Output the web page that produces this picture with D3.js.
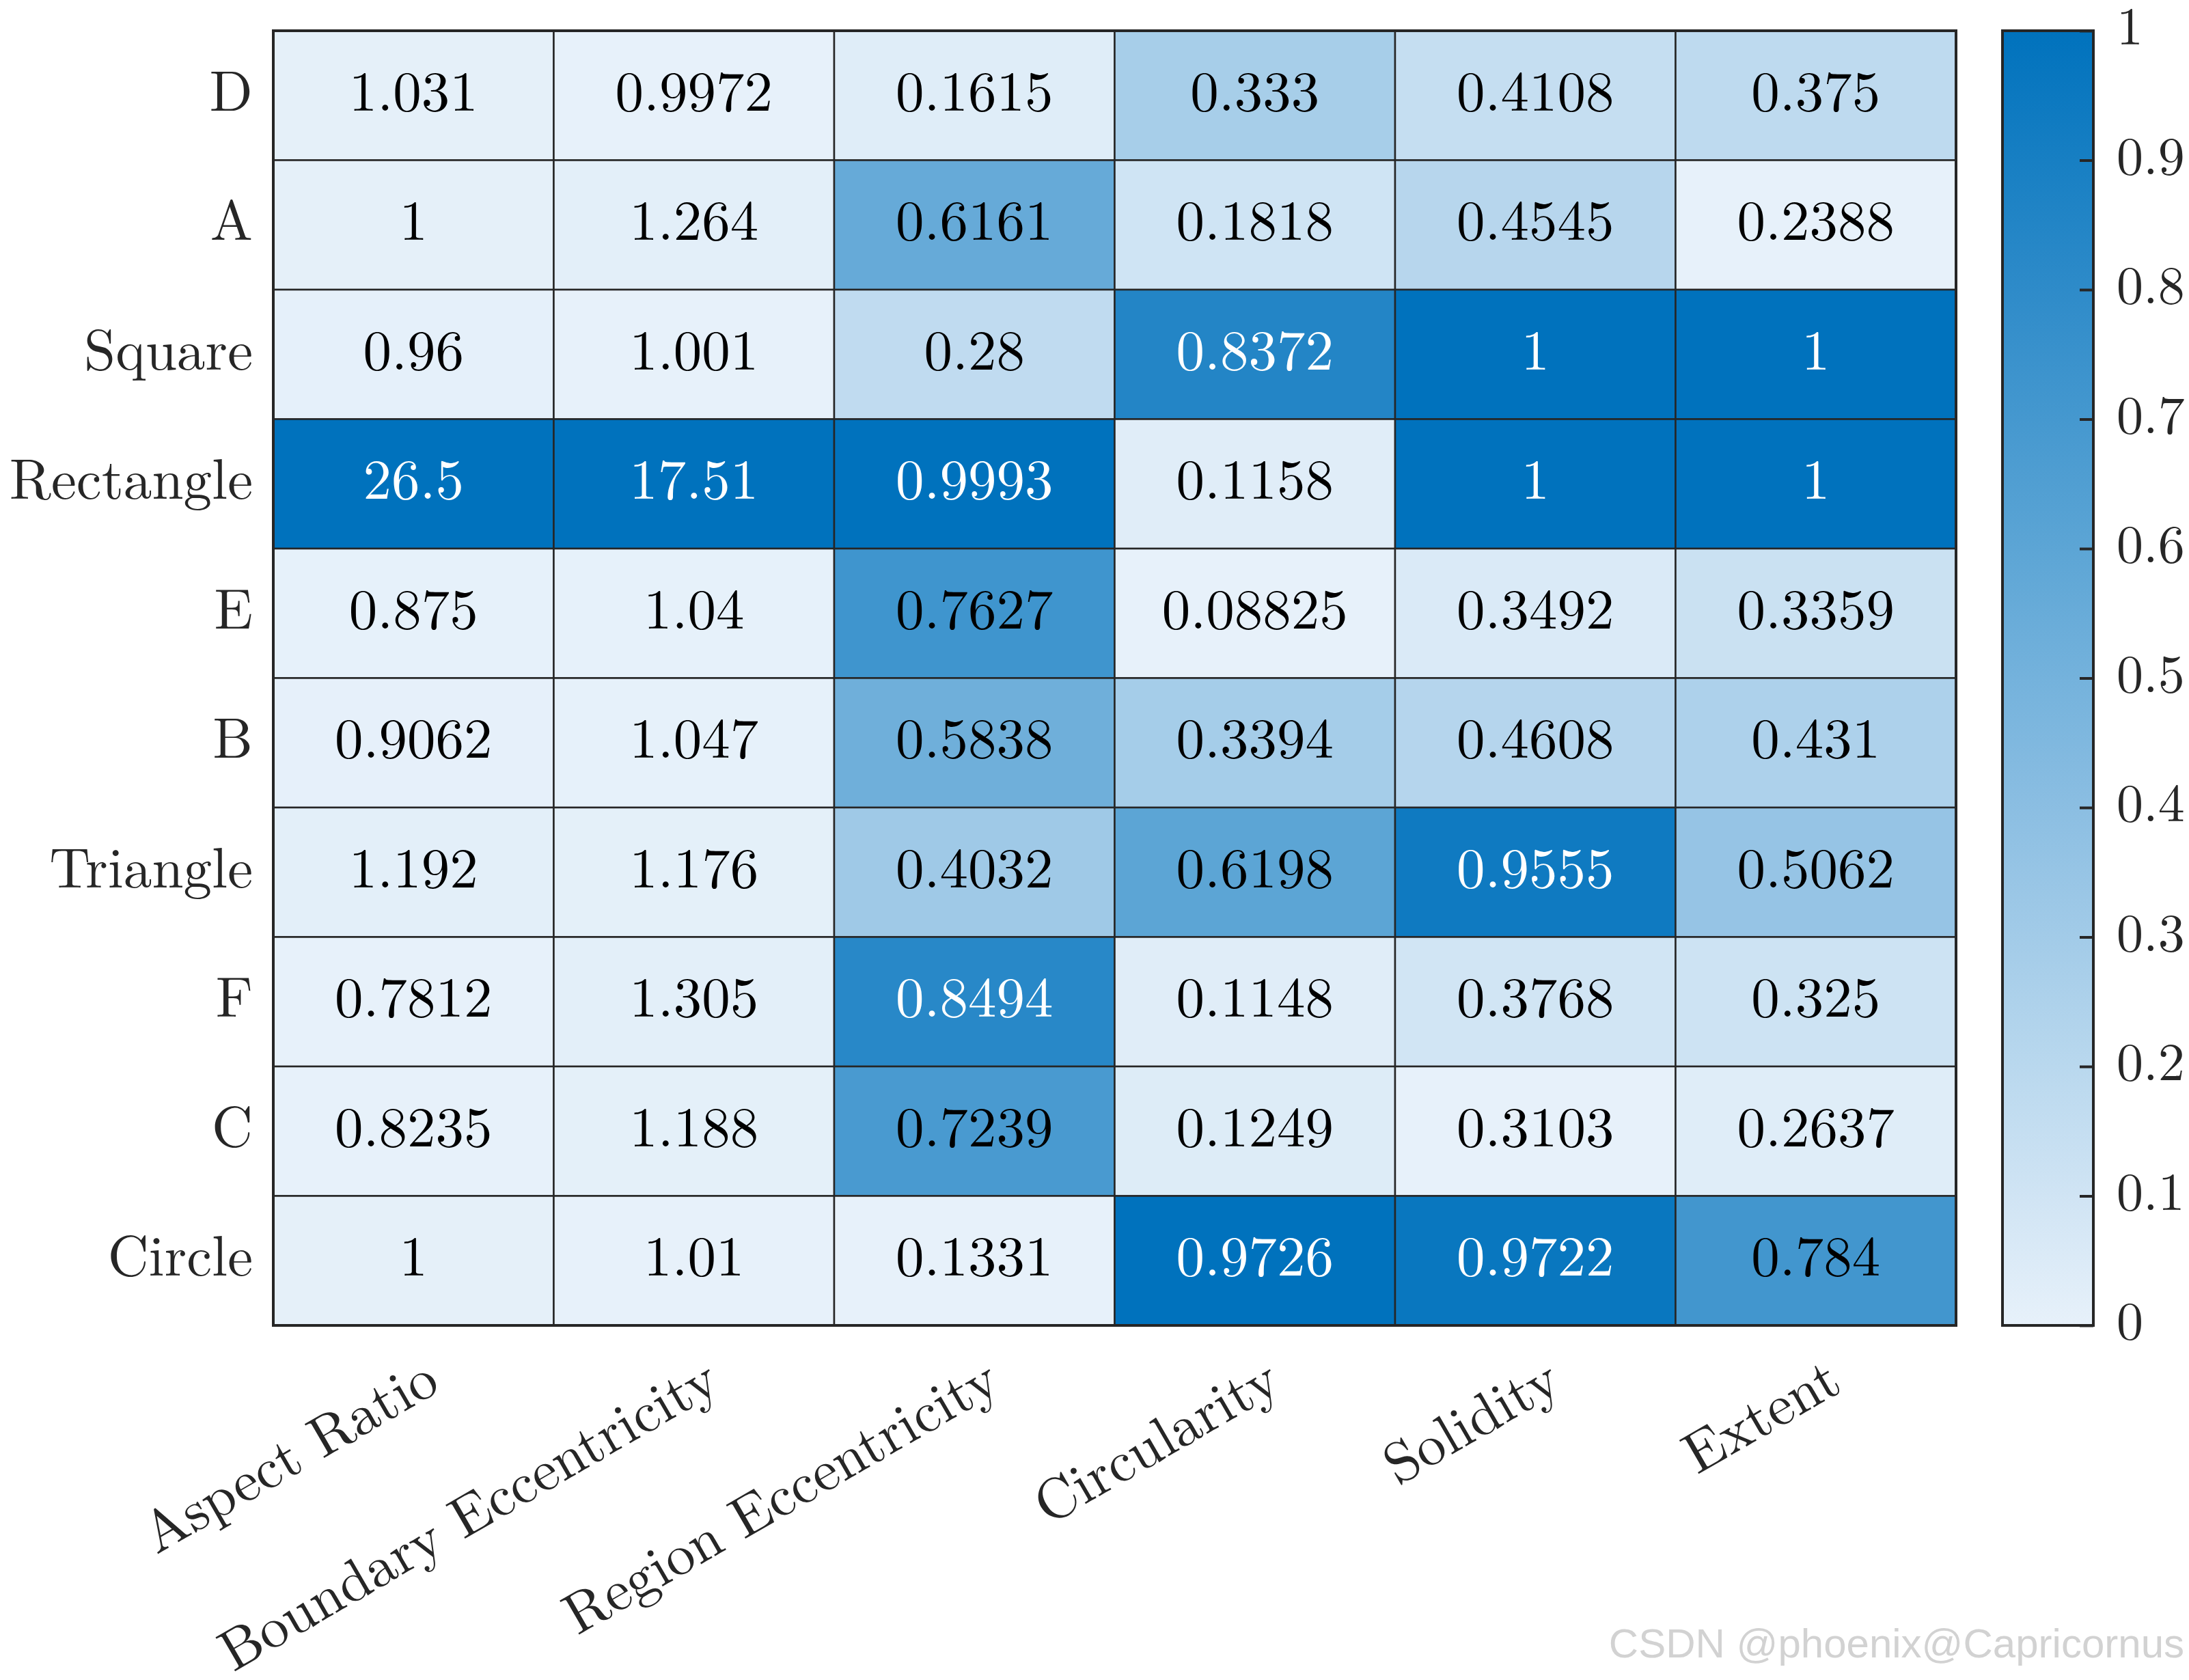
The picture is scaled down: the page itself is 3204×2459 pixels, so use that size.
<!DOCTYPE html>
<html>
<head>
<meta charset="utf-8">
<script src="https://cdn.jsdelivr.net/npm/d3@7"></script>
<style>
  body { margin: 0; background: #fff; }
  text { font-family: "Latin Modern Roman", "Liberation Serif", serif; }
</style>
</head>
<body>
<div id="chart"></div>
<script>
// shapes (rows, top to bottom) and features (columns)
var shapes = ["D", "A", "Square", "Rectangle", "E", "B", "Triangle", "F", "C", "Circle"];
var features = ["Aspect Ratio", "Boundary Eccentricity", "Region Eccentricity", "Circularity", "Solidity", "Extent"];

var aspectRatio = [1.031, 1, 0.96, 26.5, 0.875, 0.9062, 1.192, 0.7812, 0.8235, 1];
var boundaryEcc = [0.9972, 1.264, 1.001, 17.51, 1.04, 1.047, 1.176, 1.305, 1.188, 1.01];
var regionEcc = [0.1615, 0.6161, 0.28, 0.9993, 0.7627, 0.5838, 0.4032, 0.8494, 0.7239, 0.1331];
var circularity = [0.333, 0.1818, 0.8372, 0.1158, 0.08825, 0.3394, 0.6198, 0.1148, 0.1249, 0.9726];
var solidity = [0.4108, 0.4545, 1, 1, 0.3492, 0.4608, 0.9555, 0.3768, 0.3103, 0.9722];
var extent = [0.375, 0.2388, 1, 1, 0.3359, 0.431, 0.5062, 0.325, 0.2637, 0.784];

var colorTicks = [0, 0.1, 0.2, 0.3, 0.4, 0.5, 0.6, 0.7, 0.8, 0.9, 1];

var columns = [aspectRatio, boundaryEcc, regionEcc, circularity, solidity, extent];

var svgWidth = 3204;
var svgHeight = 2459;

var grid = { left: 400, right: 2863, top: 45, bottom: 1940 };

var svg = d3.select("#chart")
  .append("svg")
  .attr("width", svgWidth)
  .attr("height", svgHeight);

var xScale = d3.scaleBand()
  .domain(features)
  .range([grid.left, grid.right]);

var yScale = d3.scaleBand()
  .domain(shapes)
  .range([grid.top, grid.bottom]);

var color = d3.scaleLinear()
  .domain([0, 1])
  .range(["#e7f1fa", "#0072bd"])
  .clamp(true);

// cells, colour normalised within each column
var cells = [];
columns.forEach(function(col, j) {
  var lo = d3.min(col), hi = d3.max(col);
  col.forEach(function(v, i) {
    cells.push({ shape: shapes[i], feature: features[j], value: v, norm: (v - lo) / (hi - lo) });
  });
});

var cellGroup = svg.append("g");

cellGroup.selectAll("rect")
  .data(cells)
  .enter()
  .append("rect")
  .attr("x", d => xScale(d.feature))
  .attr("y", d => yScale(d.shape))
  .attr("width", xScale.bandwidth())
  .attr("height", yScale.bandwidth())
  .attr("fill", d => color(d.norm))
  .attr("stroke", "#262626")
  .attr("stroke-width", 2.5);

cellGroup.selectAll("text")
  .data(cells)
  .enter()
  .append("text")
  .attr("x", d => xScale(d.feature) + xScale.bandwidth() / 2)
  .attr("y", d => yScale(d.shape) + yScale.bandwidth() / 2 + 22)
  .attr("text-anchor", "middle")
  .attr("font-size", "83px")
  .attr("fill", d => d.norm > 0.78 ? "#ffffff" : "#000000")
  .text(d => String(d.value));

// outer frame
svg.append("rect")
  .attr("x", grid.left)
  .attr("y", grid.top)
  .attr("width", grid.right - grid.left)
  .attr("height", grid.bottom - grid.top)
  .attr("fill", "none")
  .attr("stroke", "#262626")
  .attr("stroke-width", 4);

// row labels
svg.append("g")
  .selectAll("text")
  .data(shapes)
  .enter()
  .append("text")
  .attr("x", grid.left - 30)
  .attr("y", d => yScale(d) + yScale.bandwidth() / 2 + 22)
  .attr("text-anchor", "end")
  .attr("font-size", "83px")
  .attr("fill", "#262626")
  .text(d => d);

// column labels, rotated
svg.append("g")
  .selectAll("text")
  .data(features)
  .enter()
  .append("text")
  .attr("transform", d => `translate(${xScale(d) + xScale.bandwidth() / 2 + 10}, ${grid.bottom + 40}) rotate(-30)`)
  .attr("dy", "0.75em")
  .attr("text-anchor", "end")
  .attr("font-size", "84px")
  .attr("fill", "#262626")
  .text(d => d);

// colorbar
var cb = { left: 2931, right: 3064 };
var cbScale = d3.scaleLinear().domain([0, 1]).range([grid.bottom, grid.top]);

var grad = svg.append("defs").append("linearGradient")
  .attr("id", "cbgrad")
  .attr("x1", 0).attr("y1", 1).attr("x2", 0).attr("y2", 0);
grad.selectAll("stop")
  .data(colorTicks)
  .enter()
  .append("stop")
  .attr("offset", d => d)
  .attr("stop-color", d => color(d));

svg.append("rect")
  .attr("x", cb.left)
  .attr("y", cbScale(1))
  .attr("width", cb.right - cb.left)
  .attr("height", cbScale(0) - cbScale(1))
  .attr("fill", "url(#cbgrad)")
  .attr("stroke", "#262626")
  .attr("stroke-width", 4);

var cbAxis = d3.axisRight(cbScale)
  .tickValues(colorTicks)
  .tickSizeInner(-20)
  .tickSizeOuter(0)
  .tickPadding(34)
  .tickFormat(d3.format(""));

var cbG = svg.append("g")
  .attr("transform", `translate(${cb.right}, 0)`)
  .call(cbAxis);

cbG.select(".domain").remove();
cbG.selectAll(".tick line")
  .attr("stroke", "#262626")
  .attr("stroke-width", 4);
cbG.selectAll(".tick text")
  .attr("font-size", "78px")
  .attr("font-family", "Latin Modern Roman, Liberation Serif, serif")
  .attr("fill", "#262626")
  .attr("dy", "0.25em");

// watermark
svg.append("text")
  .attr("x", 3197)
  .attr("y", 2426)
  .attr("text-anchor", "end")
  .attr("font-size", "60px")
  .style("font-family", "Liberation Sans, Arial, sans-serif")
  .attr("fill", "#d2d2d2")
  .text("CSDN @phoenix@Capricornus");
</script>
</body>
</html>
